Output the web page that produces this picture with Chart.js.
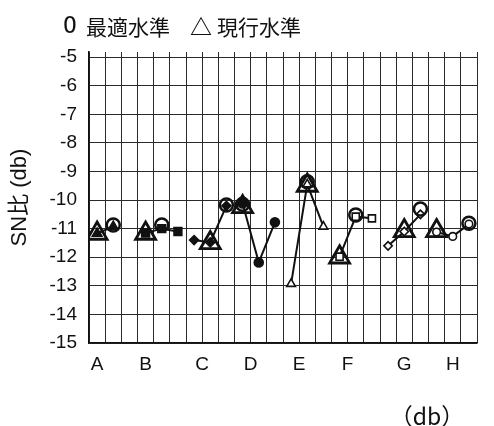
<!DOCTYPE html>
<html>
<head>
<meta charset="utf-8">
<script src="https://cdn.jsdelivr.net/npm/chart.js@4"></script>
<style>
  html, body { margin: 0; padding: 0; background: #fff; }
  #wrap { width: 494px; height: 426px; }
</style>
</head>
<body>
<div id="wrap"><canvas id="c" width="494" height="426"></canvas></div>
<script>
// Factor names and where each name sits on the level axis
const factorNames = ['A', 'B', 'C', 'D', 'E', 'F', 'G', 'H'];
const factorLabelAt = [0.5, 3.5, 7, 10, 13, 16, 19.5, 22.5];

// Level positions of each factor on the level axis
const levelsA = [0.5, 1.5];
const levelsB = [3.5, 4.5, 5.5];
const levelsC = [6.5, 7.5, 8.5];
const levelsD = [9.5, 10.5, 11.5];
const levelsE = [12.5, 13.5, 14.5];
const levelsF = [15.5, 16.5, 17.5];
const levelsG = [18.5, 19.5, 20.5];
const levelsH = [21.5, 22.5, 23.5];

// SN ratio (db) per level
const snA = [-11.17, -10.93];
const snB = [-11.15, -11.0, -11.1];
const snC = [-11.40, -11.48, -10.2];
const snD = [-10.12, -12.18, -10.78];
const snE = [-12.93, -9.45, -10.93];
const snF = [-11.98, -10.58, -10.64];
const snG = [-11.60, -11.10, -10.50];
const snH = [-11.12, -11.27, -10.84];

// Optimum levels (circles) and current levels (triangles)
const optimumAt = [1.5, 4.5, 8.5, 9.5, 13.5, 16.5, 20.5, 23.5];
const optimumSN = [-10.87, -10.87, -10.17, -10.15, -9.36, -10.52, -10.31, -10.81];
const currentAt = [0.5, 3.5, 7.5, 9.5, 13.5, 15.5, 19.5, 21.5];
const currentSN = [-11.17, -11.17, -11.5, -10.24, -9.49, -12.0, -11.08, -11.08];

// Y axis ticks
const yTicks = [-5, -6, -7, -8, -9, -10, -11, -12, -13, -14, -15];

const INK = '#111';
const pts = (xs, ys) => xs.map((x, i) => ({ x: x, y: ys[i] }));

function factorSeries(name, xs, ys, shape, radius, filled) {
  return {
    label: name,
    data: pts(xs, ys),
    order: 2,
    borderColor: INK,
    borderWidth: 2,
    tension: 0,
    pointStyle: shape,
    pointRadius: radius,
    pointBorderWidth: 1.6,
    pointBorderColor: INK,
    pointBackgroundColor: filled ? INK : '#fff'
  };
}

const datasets = [
  {
    label: '最適水準',
    data: pts(optimumAt, optimumSN),
    order: 0,
    showLine: false,
    pointStyle: 'circle',
    pointRadius: 6.5,
    pointBorderWidth: 2.5,
    pointBorderColor: INK,
    pointBackgroundColor: 'rgba(0,0,0,0)'
  },
  {
    label: '現行水準',
    data: pts(currentAt, currentSN),
    order: 1,
    showLine: false,
    pointStyle: 'triangle',
    pointRadius: 11.5,
    pointBorderWidth: 2.8,
    pointBorderColor: INK,
    pointBackgroundColor: 'rgba(0,0,0,0)'
  },
  factorSeries('A', levelsA, snA, 'triangle', 5.5, true),
  factorSeries('B', levelsB, snB, 'rect', 5.5, true),
  factorSeries('C', levelsC, snC, 'rectRot', 4.5, true),
  factorSeries('D', levelsD, snD, 'circle', 4.5, true),
  factorSeries('E', levelsE, snE, 'triangle', 5, false),
  factorSeries('F', levelsF, snF, 'rect', 5, false),
  factorSeries('G', levelsG, snG, 'rectRot', 4.2, false),
  factorSeries('H', levelsH, snH, 'circle', 3.8, false)
];

// Legend line above the plot and the unit note under the level axis
const captions = {
  id: 'captions',
  afterDraw(chart) {
    const ctx = chart.ctx;
    ctx.save();
    ctx.fillStyle = INK;
    ctx.textBaseline = 'middle';
    ctx.textAlign = 'left';
    ctx.font = '23px "DejaVu Sans Mono"';
    ctx.fillText('O', 63, 27);
    ctx.font = '21px "Noto Sans CJK JP"';
    ctx.fillText('最適水準', 86, 27);
    ctx.fillText('現行水準', 217, 27);
    ctx.font = 'bold 22px "Noto Sans CJK JP"';
    ctx.fillText('△', 190, 27);
    ctx.font = '23px "Noto Sans CJK JP"';
    ctx.textAlign = 'center';
    ctx.fillText('（db）', 427, 416);
    ctx.restore();
  }
};

new Chart(document.getElementById('c'), {
  type: 'line',
  data: { datasets: datasets },
  options: {
    responsive: false,
    animation: false,
    events: [],
    layout: { padding: { top: 52, right: 17, left: 0, bottom: 0 } },
    plugins: {
      legend: { display: false },
      tooltip: { enabled: false }
    },
    scales: {
      x: {
        type: 'linear',
        min: 0,
        max: 24,
        afterBuildTicks(axis) {
          const vals = [];
          for (let i = 0; i <= 24; i++) vals.push(i);
          factorLabelAt.forEach(v => { if (!vals.includes(v)) vals.push(v); });
          vals.sort((a, b) => a - b);
          axis.ticks = vals.map(v => ({ value: v }));
        },
        afterFit(axis) { axis.height = 83; },
        grid: {
          drawTicks: false,
          color: c => (c.tick && Number.isInteger(c.tick.value)) ? '#2a2a2a' : 'rgba(0,0,0,0)',
          lineWidth: 1
        },
        border: { color: '#111', width: 1.6 },
        ticks: {
          autoSkip: false,
          maxRotation: 0,
          padding: 10,
          color: INK,
          font: { family: '"Liberation Sans", Arial, sans-serif', size: 19 },
          callback(v) {
            const k = factorLabelAt.indexOf(v);
            return k >= 0 ? factorNames[k] : '';
          }
        }
      },
      y: {
        type: 'linear',
        min: -15,
        max: -4.82,
        afterBuildTicks(axis) {
          axis.ticks = yTicks.map(v => ({ value: v }));
        },
        afterFit(axis) { axis.width = 89; },
        grid: { drawTicks: false, color: '#2a2a2a', lineWidth: 1 },
        border: { color: '#111', width: 1.6 },
        ticks: {
          padding: 12,
          color: INK,
          font: { family: '"Liberation Sans", Arial, sans-serif', size: 19 },
          callback: v => String(v)
        },
        title: {
          display: true,
          text: 'SN比 (db)',
          color: INK,
          padding: { top: 7, bottom: 0 },
          font: { family: '"Liberation Sans", "Noto Sans CJK JP", sans-serif', size: 22 }
        }
      }
    }
  },
  plugins: [captions]
});
</script>
</body>
</html>
